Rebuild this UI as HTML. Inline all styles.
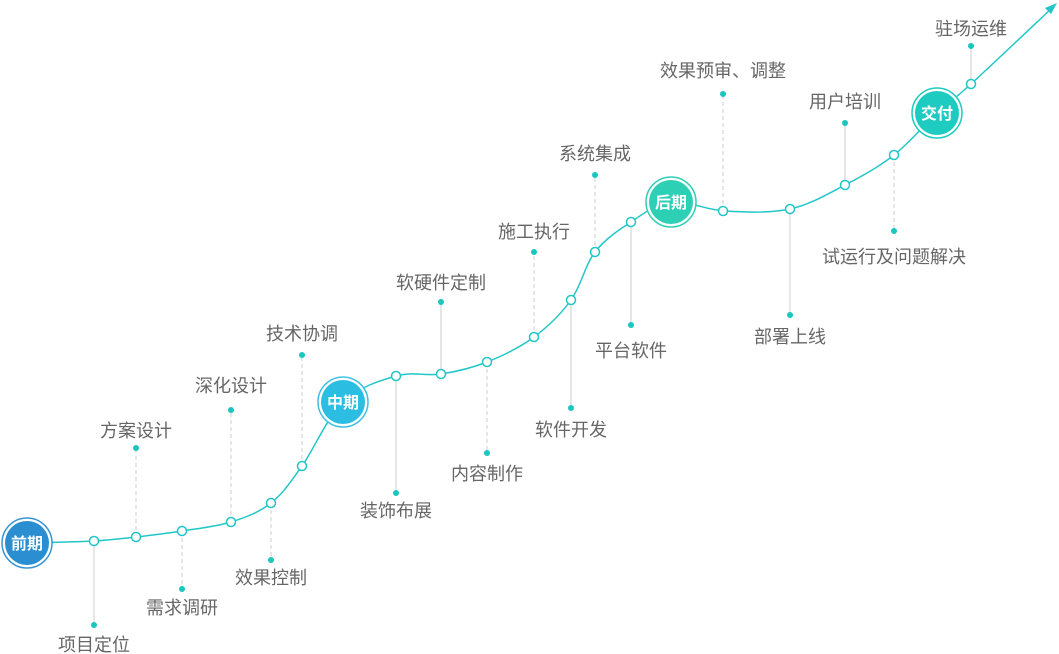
<!DOCTYPE html>
<html><head><meta charset="utf-8"><style>
html,body{margin:0;padding:0;background:#fff;width:1059px;height:654px;overflow:hidden}
svg{display:block}
text{font-family:"Liberation Sans","Noto Sans CJK SC",sans-serif}
.lbl{font-size:18px;fill:#666;text-anchor:middle}
.ms{font-size:16px;font-weight:bold;fill:#fff;text-anchor:middle}
</style></head><body>
<svg id="s" width="1059" height="654" viewBox="0 0 1059 654" xmlns="http://www.w3.org/2000/svg">
<g id="leaders" stroke="#d6d6d6" stroke-width="1.2"></g>
<path id="curve" fill="none" stroke="#22c6c8" stroke-width="1.5"/>
<polygon points="1057,3 1045,8 1051,14" fill="#22c6c8"/>
<g id="nodes"></g>
<g id="labels"></g>
<g>
<circle cx="27" cy="543" r="25" fill="#fff" stroke="#3a95d3" stroke-width="1.5"/>
<circle cx="27" cy="543" r="22" fill="#2a8ed0"/>
<text class="ms" x="27" y="549">前期</text>
<circle cx="343" cy="402" r="25" fill="#fff" stroke="#3ec0e3" stroke-width="1.5"/>
<circle cx="343" cy="402" r="22" fill="#2cbde3"/>
<text class="ms" x="343" y="408">中期</text>
<circle cx="671" cy="202" r="25" fill="#fff" stroke="#2fcfb5" stroke-width="1.5"/>
<circle cx="671" cy="202" r="22" fill="#2dcfb5"/>
<text class="ms" x="671" y="208">后期</text>
<circle cx="937" cy="113" r="25" fill="#fff" stroke="#1ecbc0" stroke-width="1.5"/>
<circle cx="937" cy="113" r="22" fill="#1ecbc0"/>
<text class="ms" x="937" y="119">交付</text>
</g>
</svg>
<script>
var P=[[27,543],[94,541],[136,537],[182,531],[231,522],[271,503],[302,466],[343,402],[396,376],[441,374],[487,362],[534,337],[571,300],[595,252],[631,222],[671,202],[725,211],[790,209],[845,185],[894,155],[937,113],[971,84],[1052,8]];
var d="M"+P[0][0]+","+P[0][1];
for(var i=0;i<P.length-1;i++){var p0=P[i-1]||P[i],p1=P[i],p2=P[i+1],p3=P[i+2]||P[i+1];var t=6;
d+=" C"+(p1[0]+(p2[0]-p0[0])/t)+","+(p1[1]+(p2[1]-p0[1])/t)+" "+(p2[0]-(p3[0]-p1[0])/t)+","+(p2[1]-(p3[1]-p1[1])/t)+" "+p2[0]+","+p2[1];}
document.getElementById("curve").setAttribute("d",d);
var L=[[94,541,625,651,"项目定位",0],[136,537,448,437,"方案设计",1],[182,531,589,614,"需求调研",1],[231,522,410,392,"深化设计",1],[271,503,560,584,"效果控制",1],[302,466,355,340,"技术协调",1],[396,376,493,517,"装饰布展",0],[441,374,302,289,"软硬件定制",0],[487,362,453,480,"内容制作",1],[534,337,252,238,"施工执行",1],[571,300,408,436,"软件开发",0],[595,252,175,160,"系统集成",1],[631,222,325,357,"平台软件",0],[723,211,94,77,"效果预审、调整",1],[790,209,315,343,"部署上线",0],[845,185,123,108,"用户培训",0],[894,155,231,263,"试运行及问题解决",1],[971,84,46,35,"驻场运维",0]];
var ns="http://www.w3.org/2000/svg",g=document.getElementById("leaders"),n=document.getElementById("nodes"),lb=document.getElementById("labels");
function el(t,a,par){var e=document.createElementNS(ns,t);for(var k in a)e.setAttribute(k,a[k]);par.appendChild(e);return e;}
L.forEach(function(l){
var ln=el("line",{x1:l[0],y1:l[1],x2:l[0],y2:l[2]},g);if(l[5])ln.setAttribute("stroke-dasharray","4,3");
el("circle",{cx:l[0],cy:l[2],r:3,fill:"#1cc6c0"},n);
el("circle",{cx:l[0],cy:l[1],r:4.5,fill:"#fff",stroke:"#22c6c8","stroke-width":1.5},n);
var t=el("text",{x:l[0],y:l[3],"class":"lbl"},lb);t.textContent=l[4];});
</script>
</body></html>
